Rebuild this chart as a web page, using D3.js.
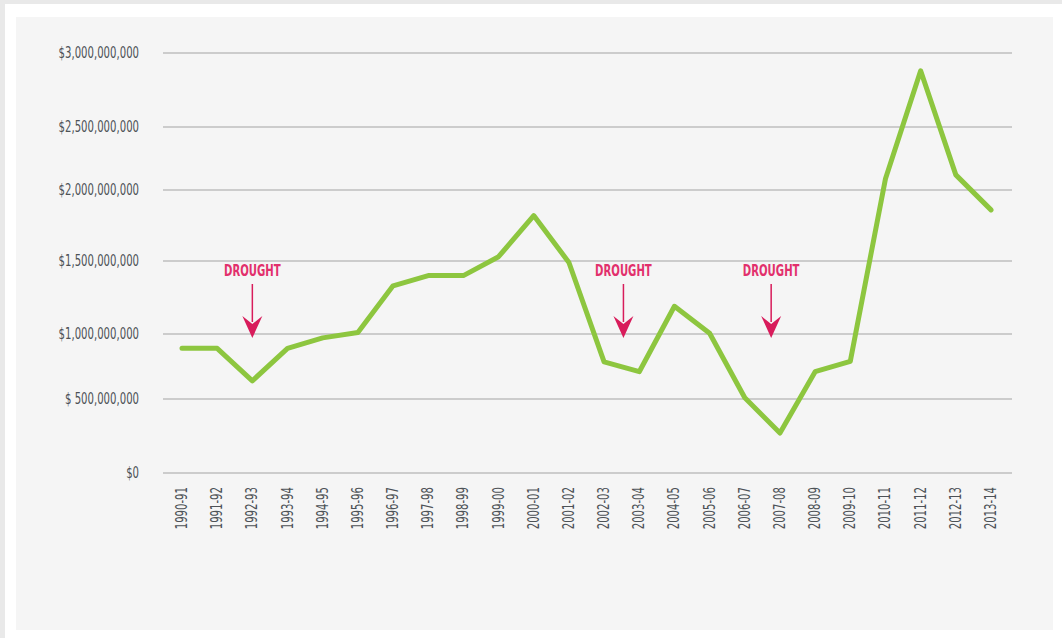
<!DOCTYPE html>
<html>
<head>
	<meta charset='utf-8'>
	<title>Drought line chart</title>
	<style>
		body {margin: 0; background: #ffffff;}
		svg {display: block;}
		.grid line {stroke: #a3a3a3; stroke-width: 1.2px;}
		.ylab, .xlab {font-family: 'DejaVu Sans Condensed', 'DejaVu Sans', sans-serif; fill: #4d5257;}
		.ylab {font-size: 15px;}
		.xlab {font-size: 15px;}
		.drought {font-family: 'DejaVu Sans Condensed', 'DejaVu Sans', sans-serif; font-weight: bold; font-size: 15px; fill: #e2306c;}
		.series {fill: none; stroke: #8dc63f; stroke-width: 5px; stroke-linejoin: round; stroke-linecap: round;}
	</style>
</head>
<body>
	<script src='https://d3js.org/d3.v7.min.js'></script>
	<script>

		var W = 1062, H = 638;

		var years = ["1990-91","1991-92","1992-93","1993-94","1994-95","1995-96","1996-97","1997-98",
			"1998-99","1999-00","2000-01","2001-02","2002-03","2003-04","2004-05","2005-06",
			"2006-07","2007-08","2008-09","2009-10","2010-11","2011-12","2012-13","2013-14"];

		var values = [890e6, 890e6, 640e6, 890e6, 970e6, 1010e6, 1330e6, 1400e6,
			1400e6, 1530e6, 1820e6, 1490e6, 785e6, 710e6, 1190e6, 1005e6,
			510e6, 270e6, 710e6, 790e6, 2090e6, 2880e6, 2120e6, 1860e6];

		var yTicks = [0, 5e8, 1e9, 1.5e9, 2e9, 2.5e9, 3e9];
		var yTickLabels = ["$0", "$ 500,000,000", "$1,000,000,000", "$1,500,000,000",
			"$2,000,000,000", "$2,500,000,000", "$3,000,000,000"];

		// drought markers, position in category index units
		var droughtAt = [2, 12.55, 16.75];

		var svg = d3.select('body').append('svg').attr('width', W).attr('height', H);

		// page frame
		svg.append('rect').attr('x', 0).attr('y', 0).attr('width', W).attr('height', 4).attr('fill', '#e9e9e9');
		svg.append('rect').attr('x', 0).attr('y', 0).attr('width', 5).attr('height', H).attr('fill', '#e9e9e9');
		svg.append('rect').attr('x', 16).attr('y', 17).attr('width', 1037).attr('height', 613).attr('fill', '#f5f5f5');

		var x = d3.scalePoint().domain(years).range([182, 991]);
		var step = x.step();
		function xAt(i) { return x(years[0]) + i * step; }

		// gridlines in the source are not evenly spaced, so the scale is piecewise
		var y = d3.scaleLinear().domain(yTicks).range([473, 399, 334, 261, 190, 127, 53]);

		var grid = svg.append('g').attr('class', 'grid');
		grid.selectAll('line')
			.data(yTicks)
			.enter().append('line')
				.attr('x1', 163)
				.attr('x2', 1012)
				.attr('y1', function (d) { return y(d); })
				.attr('y2', function (d) { return y(d); });

		// the source font is a condensed face; squeeze text horizontally
		svg.selectAll('.ylab')
			.data(yTicks)
			.enter().append('text')
				.attr('class', 'ylab')
				.attr('transform', function (d) { return 'translate(139,' + y(d) + ') scale(0.75,1)'; })
				.attr('dy', '0.35em')
				.attr('text-anchor', 'end')
				.text(function (d, i) { return yTickLabels[i]; });

		svg.selectAll('.xlab')
			.data(years)
			.enter().append('text')
				.attr('class', 'xlab')
				.attr('transform', function (d) { return 'translate(' + (x(d) + 5) + ',487) rotate(-90) scale(0.75,1)'; })
				.attr('text-anchor', 'end')
				.text(function (d) { return d; });

		var line = d3.line()
			.x(function (d, i) { return x(years[i]); })
			.y(function (d) { return y(d); });

		svg.append('path').datum(values).attr('class', 'series').attr('d', line);

		// drought annotations
		var dr = svg.selectAll('.dr')
			.data(droughtAt)
			.enter().append('g')
				.attr('class', 'dr')
				.attr('transform', function (d) { return 'translate(' + xAt(d) + ',0)'; });

		dr.append('text')
			.attr('class', 'drought')
			.attr('transform', 'translate(0,276) scale(0.75,1)')
			.attr('text-anchor', 'middle')
			.text('DROUGHT');

		dr.append('line')
			.attr('x1', 0).attr('x2', 0)
			.attr('y1', 284).attr('y2', 322)
			.attr('stroke', '#d81c5b')
			.attr('stroke-width', 1.5);

		dr.append('path')
			.attr('d', 'M-10,316 L0,338 L10,316 L0,324 Z')
			.attr('fill', '#d81c5b');

	</script>
</body>
</html>
